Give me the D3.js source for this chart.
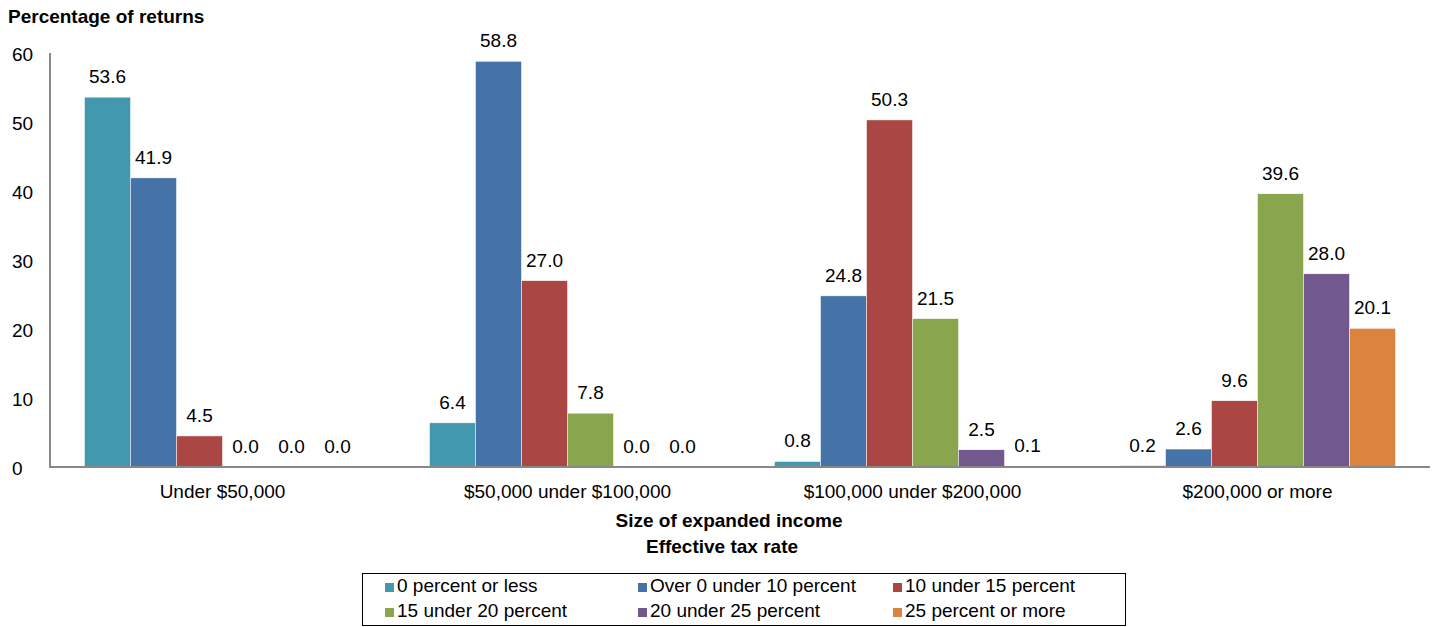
<!DOCTYPE html>
<html><head><meta charset="utf-8">
<script src="https://cdn.jsdelivr.net/npm/d3@7/dist/d3.min.js"></script>
<style>body{margin:0;background:#fff;} text{font-family:"Liberation Sans",Arial,sans-serif;}</style>
</head><body><svg id="c" width="1436" height="627"></svg>
<script>
const categories = ["Under $50,000","$50,000 under $100,000","$100,000 under $200,000","$200,000 or more"];
const seriesNames = ["0 percent or less","Over 0 under 10 percent","10 under 15 percent","15 under 20 percent","20 under 25 percent","25 percent or more"];
const colors = ["#4198AF","#4572A7","#AA4643","#89A54E","#71588F","#DB843D"];
const s0 = [53.6, 6.4, 0.8, 0.2];
const s1 = [41.9, 58.8, 24.8, 2.6];
const s2 = [4.5, 27.0, 50.3, 9.6];
const s3 = [0.0, 7.8, 21.5, 39.6];
const s4 = [0.0, 0.0, 2.5, 28.0];
const s5 = [0.0, 0.0, 0.1, 20.1];
const yTicks = [0,10,20,30,40,50,60];
const series = [s0,s1,s2,s3,s4,s5];

(function(){
const svg = d3.select("#c");
const FS = 19;
const mLeft = 50, mRight = 1430, mTop = 53, mBottom = 467;
const x0 = d3.scaleBand().domain(categories).range([mLeft,mRight]).paddingInner(0.2).paddingOuter(0.1);
const x1 = d3.scaleBand().domain(d3.range(6)).range([0,x0.bandwidth()]);
const y = d3.scaleLinear().domain([0,60]).range([mBottom,mTop]);

svg.selectAll(".yt").data(yTicks).enter().append("text")
  .attr("x",12).attr("y",d=>y(d)+7.5).attr("font-size",FS).attr("fill","#000").text(d=>d);

categories.forEach((c,ci)=>{
  series.forEach((s,si)=>{
    const v = s[ci];
    const bx = x0(c)+x1(si);
    if (v>0) svg.append("rect").attr("x",bx).attr("y",y(v)).attr("width",x1.bandwidth()).attr("height",mBottom-y(v))
      .attr("fill",colors[si]).attr("stroke","#fff").attr("stroke-width",0.5);
    svg.append("text").attr("x",bx+x1.bandwidth()/2).attr("y",y(v)-14).attr("text-anchor","middle")
      .attr("font-size",FS).attr("fill","#000").text(v.toFixed(1));
  });
});

svg.append("line").attr("x1",mLeft).attr("x2",mLeft).attr("y1",mTop).attr("y2",mBottom+1).attr("stroke","#888").attr("stroke-width",2);
svg.append("line").attr("x1",mLeft).attr("x2",mRight).attr("y1",mBottom).attr("y2",mBottom).attr("stroke","#888").attr("stroke-width",2);

svg.selectAll(".xl").data(categories).enter().append("text")
  .attr("x",d=>x0(d)+x0.bandwidth()/2).attr("y",498).attr("text-anchor","middle").attr("font-size",FS).text(d=>d);

svg.append("text").attr("x",8).attr("y",23).attr("font-size",FS).attr("font-weight","bold").text("Percentage of returns");
svg.append("text").attr("x",729).attr("y",527).attr("text-anchor","middle").attr("font-size",FS).attr("font-weight","bold").text("Size of expanded income");
svg.append("text").attr("x",722).attr("y",553).attr("text-anchor","middle").attr("font-size",FS).attr("font-weight","bold").text("Effective tax rate");

svg.append("rect").attr("x",362.5).attr("y",573.5).attr("width",763).attr("height",52).attr("fill","none").attr("stroke","#000").attr("stroke-width",1);
const colX = [385,638,893], rowY = [583,608];
seriesNames.forEach((n,i)=>{
  const cx = colX[i%3], cy = rowY[Math.floor(i/3)];
  svg.append("rect").attr("x",cx).attr("y",cy).attr("width",9).attr("height",9).attr("fill",colors[i]);
  svg.append("text").attr("x",cx+12).attr("y",cy+9).attr("font-size",FS).text(n);
});
})();
</script></body></html>
